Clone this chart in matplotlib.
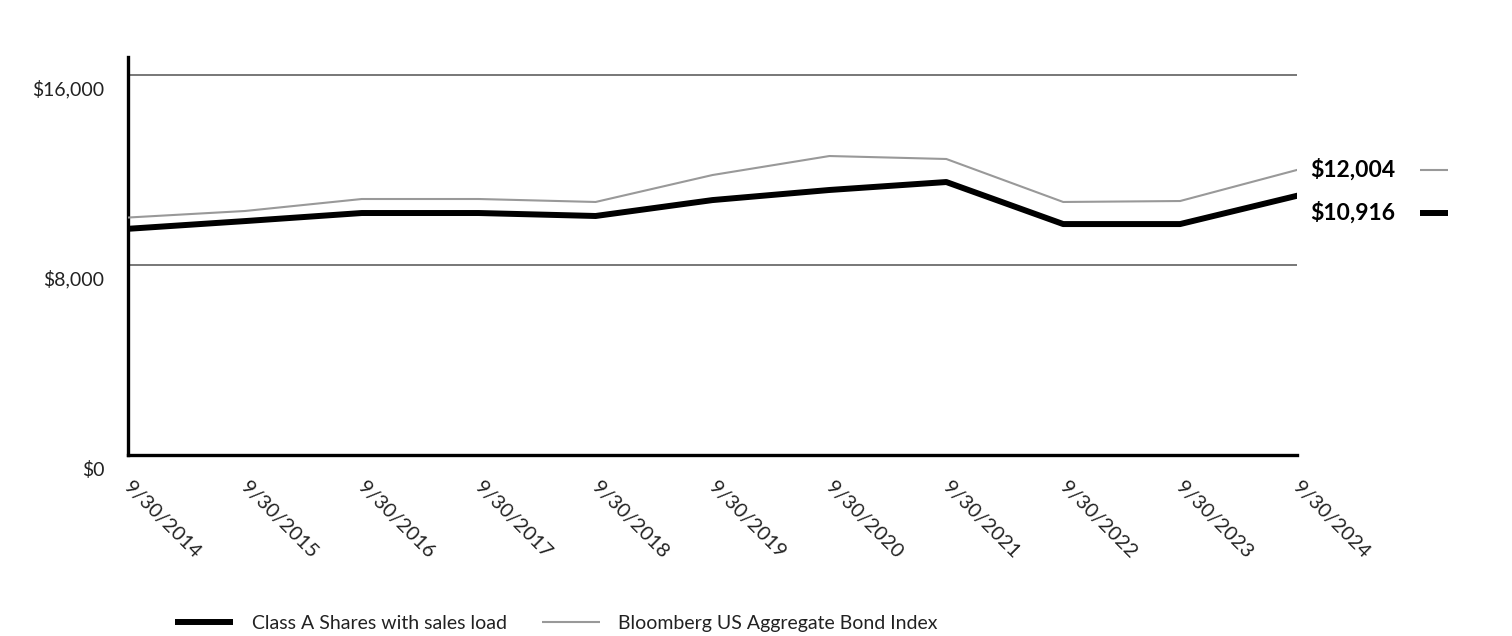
import matplotlib
matplotlib.use("Agg")
import matplotlib.pyplot as plt
import matplotlib.transforms as mtransforms
from matplotlib.lines import Line2D

plt.rcParams['font.family'] = ['Lato', 'DejaVu Sans']

# Growth of $10,000
dates = ["9/30/2014", "9/30/2015", "9/30/2016", "9/30/2017", "9/30/2018", "9/30/2019",
         "9/30/2020", "9/30/2021", "9/30/2022", "9/30/2023", "9/30/2024"]
class_a = [9525, 9850, 10190, 10190, 10065, 10735, 11160, 11495, 9725, 9725, 10916]
bond_index = [10000, 10275, 10780, 10780, 10655, 11790, 12590, 12465, 10655, 10695, 12004]
y_ticks = [0, 8000, 16000]
y_tick_labels = ["$0", "$8,000", "$16,000"]

series_names = ["Class A Shares with sales load", "Bloomberg US Aggregate Bond Index"]
end_labels = ["$10,916", "$12,004"]

fig = plt.figure(figsize=(15.12, 6.36), dpi=100)
ax = fig.add_axes([128 / 1512, 1 - 455 / 636, (1297 - 128) / 1512, (455 - 57) / 636])

x = list(range(len(dates)))
ax.plot(x, bond_index, color='#999999', lw=1.5, solid_joinstyle='round', zorder=3)
ax.plot(x, class_a, color='black', lw=4.3, solid_joinstyle='round', zorder=4)

ax.set_xlim(0, len(dates) - 1)
ax.set_ylim(0, 16760)

# gridlines
for t in y_ticks[1:]:
    ax.axhline(t, color='#777777', lw=1.4, zorder=1)

ax.set_yticks(y_ticks)
ax.set_yticklabels(y_tick_labels, fontsize=14, color='#222222')
ax.tick_params(axis='y', length=0, pad=17)
offset = mtransforms.ScaledTranslation(0, -13 / 100, fig.dpi_scale_trans)
for lbl in ax.get_yticklabels():
    lbl.set_transform(lbl.get_transform() + offset)

ax.set_xticks(x)
ax.set_xticklabels(dates, fontsize=14.5, color='#222222', rotation=-45,
                   ha='left', va='top', rotation_mode='anchor')
ax.tick_params(axis='x', length=0, pad=17)
xoff = mtransforms.ScaledTranslation(5 / 100, 0, fig.dpi_scale_trans)
for lbl in ax.get_xticklabels():
    lbl.set_transform(lbl.get_transform() + xoff)

for s in ['top', 'right']:
    ax.spines[s].set_visible(False)
for s in ['left', 'bottom']:
    ax.spines[s].set_linewidth(2.4)
    ax.spines[s].set_color('black')

# end-of-line value labels, the lower one pushed down so they do not collide
trans = mtransforms.blended_transform_factory(ax.transAxes, ax.transData)
top_y = bond_index[-1]
low_shift = mtransforms.ScaledTranslation(0, -43 / 100, fig.dpi_scale_trans)
ax.text(1.011, top_y, end_labels[1], transform=trans, fontsize=16.5, fontweight='bold',
        va='center', ha='left', clip_on=False)
ax.text(1.011, top_y, end_labels[0], transform=trans + low_shift, fontsize=16.5,
        fontweight='bold', va='center', ha='left', clip_on=False)
ax.plot([1.105, 1.129], [top_y] * 2, transform=trans, color='#999999', lw=1.5,
        clip_on=False, solid_capstyle='butt')
ax.plot([1.105, 1.129], [top_y] * 2, transform=trans + low_shift, color='black', lw=4.3,
        clip_on=False, solid_capstyle='butt')

handles = [Line2D([], [], color='black', lw=4.3, solid_capstyle='butt'),
           Line2D([], [], color='#999999', lw=1.5, solid_capstyle='butt')]
fig.legend(handles, series_names, loc='center', bbox_to_anchor=(0.368, 0.02), ncol=2,
           frameon=False, fontsize=14, handlelength=3.0, handletextpad=0.95,
           columnspacing=1.8, labelcolor='#222222')

fig.savefig("out.png", dpi=100)
